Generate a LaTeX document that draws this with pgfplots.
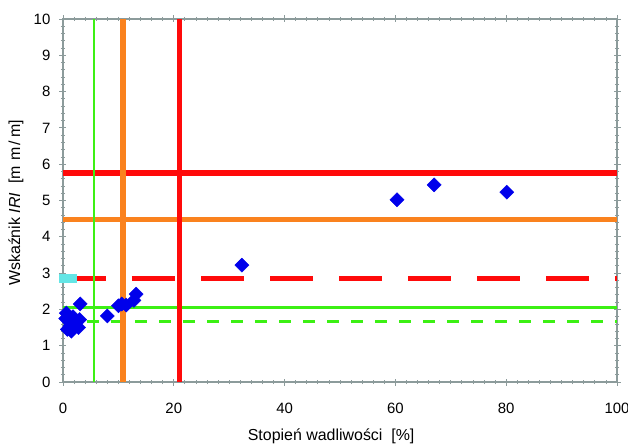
\documentclass[border=0pt]{standalone}
\usepackage{pgfplots}
\pgfplotsset{compat=1.18}
\usepackage{fontspec}
\setmainfont{Liberation Sans}
\definecolor{axgray}{RGB}{140,155,155}
\definecolor{myred}{RGB}{255,10,10}
\definecolor{myorange}{RGB}{250,130,30}
\definecolor{mygreen}{RGB}{60,240,20}
\definecolor{mycyan}{RGB}{100,230,230}
\definecolor{myblue}{RGB}{0,0,235}
\begin{document}
\fontsize{15}{18}\selectfont
\begin{tikzpicture}
\path[use as bounding box] (-63bp,-64bp) rectangle (565bp,382bp);
\begin{axis}[
 at={(0,0)}, anchor=south west,
 scale only axis, width=554bp, height=363bp,
 xmin=0, xmax=100, ymin=0, ymax=10,
 xtick={0,20,...,100}, ytick={0,1,...,10},
 minor x tick num=9, minor y tick num=4,
 axis line style={axgray, line width=1.5bp},
 every tick/.style={axgray, line width=0.8bp},
 tick align=center,
 major tick length=7bp, minor tick length=4bp,
 tick label style={font=\fontsize{15}{18}\selectfont},
 /pgf/number format/assume math mode=true,
 xticklabel style={anchor=center, yshift=-23bp},
 yticklabel style={anchor=east, xshift=-4bp},
 clip=false,
 xlabel={Stopień wadliwości\ \ [\%]},
 ylabel={Wskaźnik \textit{IRI}\ \ [m\,\,m\,/\,m]},
 xlabel style={at={(axis description cs:0.484,-0.149)}, anchor=center, font=\fontsize{16}{19}\selectfont},
 ylabel style={at={(axis description cs:-0.085,0.493)}, anchor=center, rotate=0, font=\fontsize{16}{19}\selectfont},
]
% horizontal thresholds
\addplot[myred, line width=6bp, forget plot] coordinates {(0,5.77) (100,5.77)};
\addplot[myorange, line width=4.5bp, forget plot] coordinates {(0,4.48) (100,4.48)};
\addplot[myred, line width=5bp, dash pattern=on 43bp off 26bp, forget plot] coordinates {(0,2.86) (100,2.86)};
\addplot[mygreen, line width=3bp, forget plot] coordinates {(0,2.05) (100,2.05)};
\addplot[mygreen, line width=3bp, dash pattern=on 12bp off 12bp, forget plot] coordinates {(0,1.66) (100,1.66)};
\addplot[mycyan, line width=9bp, forget plot] coordinates {(-0.75,2.86) (2.6,2.86)};
% vertical thresholds
\addplot[mygreen, line width=2.5bp, forget plot] coordinates {(5.6,0) (5.6,10)};
\addplot[myorange, line width=6bp, forget plot] coordinates {(10.8,0) (10.8,10)};
\addplot[myred, line width=5bp, forget plot] coordinates {(21,0) (21,10)};
% data points
\addplot[only marks, mark=square*, mark size=5bp, mark options={myblue, rotate=45, draw=myblue, fill=myblue}] coordinates {
(0.5,1.75) (0.8,1.45) (1.3,1.55) (1.8,1.8) (2.2,1.65) (2.8,1.5) (3.0,1.72) (1.5,1.4) (0.6,1.9) (3.1,2.15)
(8.0,1.82)
(10.0,2.1) (10.6,2.15) (11.4,2.12) (12.8,2.25) (13.2,2.42)
(32.3,3.22) (60.3,5.02) (67.0,5.43) (80.1,5.23)
};
\end{axis}
\end{tikzpicture}
\end{document}
